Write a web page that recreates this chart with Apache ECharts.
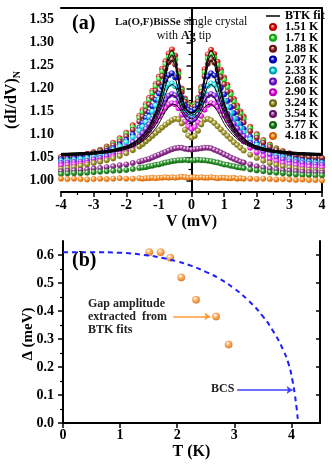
<!DOCTYPE html>
<html>
<head>
<meta charset="utf-8">
<script src="https://cdn.jsdelivr.net/npm/echarts@6/dist/echarts.min.js"></script>
<style>
html, body { margin: 0; padding: 0; background: #fff; }
#main { width: 332px; height: 468px; }
</style>
</head>
<body>
<div id="main"></div>
<script>
var chartDom = document.getElementById('main');
var myChart = echarts.init(chartDom, null, { renderer: 'canvas' });

// ---- panel (a): bias (mV) and normalised conductance per temperature
var biasV = [-4.0, -3.8, -3.6, -3.4, -3.2, -3.0, -2.8, -2.6, -2.4, -2.2, -2.0, -1.8, -1.6,
  -1.5, -1.4, -1.3, -1.2, -1.1, -1.0, -0.9, -0.8, -0.7, -0.6, -0.5, -0.4, -0.3, -0.2, -0.1, 0.0,
  0.1, 0.2, 0.3, 0.4, 0.5, 0.6, 0.7, 0.8, 0.9, 1.0, 1.1, 1.2, 1.3, 1.4, 1.5,
  1.6, 1.8, 2.0, 2.2, 2.4, 2.6, 2.8, 3.0, 3.2, 3.4, 3.6, 3.8, 4.0];
var temps = ['1.51 K', '1.71 K', '1.88 K', '2.07 K', '2.33 K', '2.68 K', '2.90 K', '3.24 K', '3.54 K', '3.77 K', '4.18 K'];

var g151 = [1.050, 1.051, 1.053, 1.055, 1.058, 1.062, 1.067, 1.074, 1.082, 1.092, 1.104, 1.120, 1.141,
  1.153, 1.166, 1.180, 1.195, 1.210, 1.226, 1.243, 1.259, 1.276, 1.285, 1.272, 1.238, 1.200, 1.178, 1.166, 1.162,
  1.167, 1.180, 1.203, 1.242, 1.274, 1.284, 1.275, 1.258, 1.241, 1.224, 1.208, 1.192, 1.177, 1.163, 1.150,
  1.139, 1.117, 1.101, 1.088, 1.078, 1.070, 1.064, 1.059, 1.056, 1.053, 1.051, 1.049, 1.048];
var g171 = [1.048, 1.049, 1.051, 1.053, 1.056, 1.060, 1.065, 1.071, 1.079, 1.089, 1.101, 1.116, 1.136,
  1.148, 1.161, 1.175, 1.190, 1.205, 1.221, 1.237, 1.253, 1.268, 1.275, 1.263, 1.232, 1.197, 1.175, 1.164, 1.160,
  1.165, 1.177, 1.199, 1.235, 1.265, 1.274, 1.267, 1.251, 1.235, 1.219, 1.203, 1.187, 1.172, 1.158, 1.145,
  1.134, 1.113, 1.098, 1.086, 1.076, 1.068, 1.062, 1.057, 1.054, 1.051, 1.049, 1.048, 1.047];
var g188 = [1.051, 1.052, 1.053, 1.055, 1.057, 1.060, 1.064, 1.069, 1.076, 1.085, 1.096, 1.110, 1.128,
  1.139, 1.151, 1.165, 1.180, 1.195, 1.211, 1.227, 1.243, 1.257, 1.263, 1.252, 1.224, 1.192, 1.171, 1.160, 1.156,
  1.161, 1.172, 1.193, 1.226, 1.254, 1.263, 1.256, 1.241, 1.225, 1.209, 1.193, 1.177, 1.162, 1.149, 1.137,
  1.126, 1.107, 1.093, 1.082, 1.073, 1.066, 1.061, 1.057, 1.054, 1.052, 1.051, 1.050, 1.049];
var g207 = [1.046, 1.047, 1.048, 1.050, 1.052, 1.055, 1.059, 1.064, 1.070, 1.078, 1.088, 1.100, 1.115,
  1.125, 1.136, 1.148, 1.161, 1.175, 1.189, 1.203, 1.217, 1.229, 1.233, 1.224, 1.203, 1.180, 1.163, 1.153, 1.150,
  1.154, 1.164, 1.182, 1.206, 1.226, 1.233, 1.228, 1.215, 1.201, 1.187, 1.173, 1.159, 1.146, 1.133, 1.122,
  1.112, 1.095, 1.082, 1.072, 1.064, 1.058, 1.053, 1.049, 1.046, 1.044, 1.042, 1.041, 1.040];
var g233 = [1.042, 1.043, 1.044, 1.046, 1.048, 1.051, 1.055, 1.060, 1.066, 1.074, 1.083, 1.094, 1.108,
  1.117, 1.127, 1.138, 1.150, 1.163, 1.176, 1.189, 1.201, 1.209, 1.211, 1.205, 1.188, 1.167, 1.152, 1.143, 1.140,
  1.144, 1.153, 1.169, 1.190, 1.206, 1.211, 1.208, 1.198, 1.186, 1.173, 1.160, 1.147, 1.135, 1.124, 1.114,
  1.105, 1.089, 1.077, 1.068, 1.061, 1.055, 1.050, 1.046, 1.043, 1.041, 1.039, 1.038, 1.037];
var g268 = [1.038, 1.039, 1.040, 1.041, 1.043, 1.046, 1.049, 1.053, 1.058, 1.065, 1.073, 1.083, 1.095,
  1.103, 1.112, 1.122, 1.133, 1.144, 1.155, 1.166, 1.176, 1.184, 1.188, 1.185, 1.173, 1.157, 1.143, 1.134, 1.131,
  1.134, 1.143, 1.158, 1.174, 1.185, 1.188, 1.185, 1.177, 1.167, 1.156, 1.145, 1.134, 1.123, 1.113, 1.104,
  1.096, 1.082, 1.071, 1.063, 1.056, 1.050, 1.046, 1.042, 1.040, 1.038, 1.036, 1.035, 1.034];
var g290 = [1.033, 1.034, 1.035, 1.036, 1.038, 1.040, 1.043, 1.047, 1.052, 1.058, 1.065, 1.074, 1.085,
  1.092, 1.100, 1.109, 1.119, 1.129, 1.139, 1.149, 1.158, 1.165, 1.168, 1.166, 1.157, 1.143, 1.128, 1.117, 1.112,
  1.116, 1.126, 1.140, 1.154, 1.164, 1.168, 1.166, 1.160, 1.151, 1.141, 1.131, 1.121, 1.111, 1.101, 1.093,
  1.085, 1.071, 1.061, 1.053, 1.047, 1.042, 1.038, 1.035, 1.033, 1.031, 1.030, 1.029, 1.028];
var g324 = [1.025, 1.027, 1.029, 1.032, 1.035, 1.038, 1.041, 1.044, 1.048, 1.053, 1.059, 1.066, 1.074,
  1.079, 1.085, 1.091, 1.097, 1.103, 1.109, 1.115, 1.121, 1.126, 1.131, 1.134, 1.133, 1.124, 1.110, 1.098, 1.093,
  1.097, 1.108, 1.122, 1.132, 1.134, 1.131, 1.125, 1.118, 1.111, 1.104, 1.097, 1.090, 1.083, 1.077, 1.071,
  1.065, 1.056, 1.049, 1.043, 1.038, 1.034, 1.031, 1.028, 1.026, 1.024, 1.023, 1.022, 1.021];
var g354 = [1.020, 1.021, 1.022, 1.023, 1.024, 1.026, 1.027, 1.029, 1.031, 1.033, 1.035, 1.038, 1.041,
  1.043, 1.045, 1.047, 1.050, 1.053, 1.056, 1.059, 1.062, 1.065, 1.068, 1.070, 1.071, 1.071, 1.069, 1.068, 1.067,
  1.068, 1.069, 1.070, 1.071, 1.071, 1.070, 1.067, 1.064, 1.061, 1.057, 1.054, 1.050, 1.047, 1.044, 1.041,
  1.039, 1.035, 1.031, 1.028, 1.026, 1.024, 1.022, 1.021, 1.020, 1.019, 1.018, 1.018, 1.017];
var g377 = [1.014, 1.015, 1.016, 1.016, 1.017, 1.018, 1.019, 1.020, 1.021, 1.022, 1.023, 1.025, 1.027,
  1.028, 1.029, 1.031, 1.032, 1.034, 1.035, 1.037, 1.039, 1.040, 1.042, 1.043, 1.044, 1.044, 1.045, 1.044, 1.044,
  1.044, 1.045, 1.044, 1.044, 1.043, 1.042, 1.040, 1.039, 1.037, 1.035, 1.034, 1.032, 1.031, 1.029, 1.028,
  1.027, 1.024, 1.022, 1.020, 1.018, 1.017, 1.016, 1.014, 1.013, 1.012, 1.012, 1.011, 1.011];
var g418 = [1.004, 1.003, 1.004, 1.003, 1.002, 1.003, 1.004, 1.003, 1.004, 1.005, 1.004, 1.004, 1.005,
  1.004, 1.005, 1.005, 1.006, 1.005, 1.006, 1.006, 1.007, 1.006, 1.007, 1.006, 1.007, 1.008, 1.007, 1.006, 1.007,
  1.007, 1.006, 1.007, 1.006, 1.006, 1.007, 1.006, 1.005, 1.006, 1.006, 1.005, 1.005, 1.006, 1.004, 1.005,
  1.004, 1.004, 1.003, 1.004, 1.003, 1.002, 1.003, 1.002, 1.001, 1.002, 1.001, 1.001, 1.000];
var curves = [g151, g171, g188, g207, g233, g268, g290, g324, g354, g377, g418];

// BTK fits (first seven temperatures)
var fitV = [-4, -3.5, -3, -2.5, -2, -1.75, -1.5, -1.3, -1.1, -1.0, -0.9, -0.8, -0.7, -0.6, -0.5, -0.4, -0.3, -0.2, -0.1, 0,
  0.1, 0.2, 0.3, 0.4, 0.5, 0.6, 0.7, 0.8, 0.9, 1.0, 1.1, 1.3, 1.5, 1.75, 2, 2.5, 3, 3.5, 4];
var fit151 = [1.058, 1.060, 1.062, 1.066, 1.075, 1.084, 1.099, 1.118, 1.150, 1.172, 1.203, 1.240, 1.272, 1.283, 1.268, 1.228, 1.186, 1.162, 1.151, 1.148,
  1.151, 1.162, 1.186, 1.228, 1.268, 1.283, 1.272, 1.240, 1.203, 1.172, 1.150, 1.118, 1.099, 1.084, 1.075, 1.066, 1.062, 1.060, 1.058];
var fit171 = [1.058, 1.059, 1.061, 1.065, 1.074, 1.083, 1.097, 1.115, 1.146, 1.167, 1.197, 1.233, 1.263, 1.273, 1.259, 1.222, 1.183, 1.160, 1.150, 1.147,
  1.150, 1.160, 1.183, 1.222, 1.259, 1.273, 1.263, 1.233, 1.197, 1.167, 1.146, 1.115, 1.097, 1.083, 1.074, 1.065, 1.061, 1.059, 1.058];
var fit188 = [1.059, 1.060, 1.062, 1.066, 1.074, 1.082, 1.096, 1.113, 1.142, 1.162, 1.190, 1.224, 1.252, 1.261, 1.249, 1.215, 1.180, 1.159, 1.149, 1.146,
  1.149, 1.159, 1.180, 1.215, 1.249, 1.261, 1.252, 1.224, 1.190, 1.162, 1.142, 1.113, 1.096, 1.082, 1.074, 1.066, 1.062, 1.060, 1.059];
var fit207 = [1.057, 1.058, 1.060, 1.064, 1.072, 1.080, 1.093, 1.109, 1.135, 1.153, 1.177, 1.205, 1.225, 1.231, 1.222, 1.197, 1.170, 1.155, 1.148, 1.146,
  1.148, 1.155, 1.170, 1.197, 1.222, 1.231, 1.225, 1.205, 1.177, 1.153, 1.135, 1.109, 1.093, 1.080, 1.072, 1.064, 1.060, 1.058, 1.057];
var fit233 = [1.056, 1.057, 1.059, 1.063, 1.071, 1.079, 1.091, 1.106, 1.129, 1.145, 1.165, 1.187, 1.203, 1.209, 1.204, 1.186, 1.164, 1.151, 1.144, 1.142,
  1.144, 1.151, 1.164, 1.186, 1.204, 1.209, 1.203, 1.187, 1.165, 1.145, 1.129, 1.106, 1.091, 1.079, 1.071, 1.063, 1.059, 1.057, 1.056];
var fit268 = [1.055, 1.056, 1.058, 1.062, 1.069, 1.077, 1.088, 1.102, 1.121, 1.134, 1.150, 1.167, 1.180, 1.186, 1.183, 1.172, 1.156, 1.144, 1.137, 1.134,
  1.137, 1.144, 1.156, 1.172, 1.183, 1.186, 1.180, 1.167, 1.150, 1.134, 1.121, 1.102, 1.088, 1.077, 1.069, 1.062, 1.058, 1.056, 1.055];
var fit290 = [1.054, 1.055, 1.057, 1.061, 1.068, 1.075, 1.085, 1.097, 1.113, 1.124, 1.137, 1.150, 1.160, 1.166, 1.165, 1.159, 1.148, 1.137, 1.129, 1.126,
  1.129, 1.137, 1.148, 1.159, 1.165, 1.166, 1.160, 1.150, 1.137, 1.124, 1.113, 1.097, 1.085, 1.075, 1.068, 1.061, 1.057, 1.055, 1.054];
var fits = [fit151, fit171, fit188, fit207, fit233, fit268, fit290];

// ---- panel (b): gap vs temperature
var gapT = [1.51, 1.71, 1.88, 2.07, 2.33, 2.68, 2.90];
var gapVal = [0.61, 0.61, 0.59, 0.52, 0.44, 0.38, 0.28];
var bcsT = [0, 0.5, 1.0, 1.5, 1.75, 2.0, 2.25, 2.5, 2.75, 3.0, 3.25, 3.5, 3.7, 3.85, 3.95, 4.02, 4.06, 4.09, 4.11];
var bcsGap = [0.610, 0.610, 0.608, 0.598, 0.589, 0.577, 0.561, 0.540, 0.514, 0.480, 0.437, 0.381, 0.321, 0.263, 0.211, 0.150, 0.100, 0.055, 0.015];

// tick labels
var xTicksA = [-4, -3, -2, -1, 0, 1, 2, 3, 4];
var yTicksA = [1.00, 1.05, 1.10, 1.15, 1.20, 1.25, 1.30, 1.35];
var yMinorA = [1.025, 1.075, 1.125, 1.175, 1.225, 1.275, 1.325];
var xTicksB = [0, 1, 2, 3, 4];
var yTicksB = [0.0, 0.1, 0.2, 0.3, 0.4, 0.5, 0.6];
var yMinorB = [0.05, 0.15, 0.25, 0.35, 0.45, 0.55];

var serif = "'Liberation Serif', 'Times New Roman', serif";
var colors = ['#ff2a2a', '#44ee44', '#a83a3a', '#2222ff', '#30f0f0', '#9a3cff', '#ff3cff', '#a8a030', '#a03ca0', '#2e9a2e', '#ff9a33'];
var edges = ['#b00000', '#10a010', '#6a1010', '#0000a0', '#00a0b0', '#5a10b0', '#b000b0', '#6a6410', '#601060', '#0f600f', '#d06000'];

function ball(c, e) {
  return {
    type: 'radial', x: 0.38, y: 0.32, r: 0.7,
    colorStops: [{ offset: 0, color: '#ffffff' }, { offset: 0.45, color: c }, { offset: 1, color: e }]
  };
}

var lineSt = { show: true, lineStyle: { color: '#000', width: 2 } };
var labelSt = { color: '#000', fontFamily: serif, fontWeight: 'bold', fontSize: 14 };
var nameSt = { color: '#000', fontFamily: serif, fontWeight: 'bold', fontSize: 16 };

var series = [];
curves.forEach(function (g, i) {
  series.push({
    type: 'scatter',
    name: temps[i],
    xAxisIndex: 0,
    yAxisIndex: 0,
    symbolSize: 5.5,
    itemStyle: { color: ball(colors[i], edges[i]), borderColor: edges[i], borderWidth: 0.3, opacity: 1 },
    data: biasV.map(function (v, j) { return [v, g[j]]; }),
    z: 2
  });
});
fits.forEach(function (f) {
  series.push({
    type: 'line',
    name: 'BTK fit',
    xAxisIndex: 0,
    yAxisIndex: 0,
    smooth: 0.25,
    symbol: 'none',
    lineStyle: { color: '#000', width: 1 },
    itemStyle: { color: '#000' },
    data: fitV.map(function (v, j) { return [v, f[j]]; }),
    z: 5
  });
});
series.push({
  type: 'line',
  name: 'BCS',
  xAxisIndex: 2,
  yAxisIndex: 3,
  smooth: true,
  symbol: 'none',
  lineStyle: { color: '#1f1fff', width: 2, type: [5, 4] },
  data: bcsT.map(function (t, j) { return [t, bcsGap[j]]; }),
  markLine: {
    silent: true, animation: false, symbol: ['none', 'arrow'], symbolSize: 6,
    label: { show: false },
    lineStyle: { color: '#3d3dff', width: 1.5, type: 'solid' },
    data: [[{ coord: [3.05, 0.118] }, { coord: [4.02, 0.118] }]]
  }
});
series.push({
  type: 'scatter',
  name: 'gap',
  xAxisIndex: 2,
  yAxisIndex: 3,
  symbolSize: 7.5,
  itemStyle: { color: ball('#ff9a33', '#d06000'), borderColor: '#d06000', borderWidth: 0.3 },
  data: gapT.map(function (t, j) { return [t, gapVal[j]]; }),
  markLine: {
    silent: true, animation: false, symbol: ['none', 'arrow'], symbolSize: 6,
    label: { show: false },
    lineStyle: { color: '#ff9a33', width: 1.5, type: 'solid' },
    data: [[{ coord: [1.93, 0.38] }, { coord: [2.58, 0.38] }]]
  }
});

var legendData = [{ name: 'BTK fit', icon: 'path://M0,0L14,0L14,1.5L0,1.5Z' }].concat(temps.map(function (t) {
  return { name: t, icon: 'circle' };
}));

option = {
  animation: false,
  backgroundColor: '#fff',
  grid: [
    { left: 61, top: 8, width: 261, height: 184, outerBoundsMode: 'none' },
    { left: 63, top: 241, width: 257, height: 182, outerBoundsMode: 'none' }
  ],
  legend: {
    data: legendData,
    orient: 'vertical',
    left: 266,
    top: 10,
    padding: 0,
    itemGap: -1.1,
    itemWidth: 14,
    itemHeight: 6,
    selectedMode: false,
    textStyle: { color: '#000', fontFamily: serif, fontWeight: 'bold', fontSize: 12 }
  },
  xAxis: [
    {
      type: 'value', gridIndex: 0, min: -4, max: 4, interval: 1, position: 'bottom',
      axisLine: lineSt,
      axisTick: { show: true, length: 5, lineStyle: { width: 1.5, color: '#000' } },
      minorTick: { show: true, splitNumber: 2, length: 3, lineStyle: { width: 1.2, color: '#000' } },
      splitLine: { show: false },
      axisLabel: Object.assign({ margin: 6, customValues: xTicksA, formatter: function (v) { return String(v); } }, labelSt),
      name: 'V (mV)', nameLocation: 'middle', nameGap: 22, nameTextStyle: nameSt
    },
    {
      type: 'value', gridIndex: 0, min: -4, max: 4, position: 'top',
      axisLine: lineSt, axisTick: { show: false }, axisLabel: { show: false }, splitLine: { show: false }
    },
    {
      type: 'value', gridIndex: 1, min: 0, max: 4.5, position: 'bottom',
      axisLine: lineSt,
      axisTick: { show: true, length: 5, customValues: xTicksB, lineStyle: { width: 1.5, color: '#000' } },
      splitLine: { show: false },
      axisLabel: Object.assign({ margin: 5, customValues: xTicksB, formatter: function (v) { return String(v); } }, labelSt),
      name: 'T (K)', nameLocation: 'middle', nameGap: 21, nameTextStyle: nameSt
    },
    {
      type: 'value', gridIndex: 1, min: 0, max: 4.5, position: 'top',
      axisLine: lineSt,
      axisTick: { show: true, inside: true, length: 4, customValues: [1, 2, 3, 4], lineStyle: { width: 1.5, color: '#000' } },
      axisLabel: { show: false }, splitLine: { show: false }
    }
  ],
  yAxis: [
    {
      type: 'value', gridIndex: 0, min: 0.975, max: 1.375, position: 'left',
      axisLine: lineSt,
      axisTick: { show: true, length: 5, customValues: yTicksA, lineStyle: { width: 1.5, color: '#000' } },
      splitLine: { show: false },
      axisLabel: Object.assign({ margin: 7, customValues: yTicksA, formatter: function (v) { return v.toFixed(2); } }, labelSt)
    },
    {
      type: 'value', gridIndex: 0, min: 0.975, max: 1.375, position: 'left',
      axisLine: { show: false },
      axisTick: { show: true, length: 3, customValues: yMinorA, lineStyle: { width: 1.2, color: '#000' } },
      axisLabel: { show: false }, splitLine: { show: false }
    },
    {
      type: 'value', gridIndex: 0, min: 0.975, max: 1.375, position: 'right',
      axisLine: lineSt, axisTick: { show: false }, axisLabel: { show: false }, splitLine: { show: false }
    },
    {
      type: 'value', gridIndex: 1, min: 0, max: 0.65, position: 'left',
      axisLine: lineSt,
      axisTick: { show: true, length: 5, customValues: yTicksB, lineStyle: { width: 1.5, color: '#000' } },
      splitLine: { show: false },
      axisLabel: Object.assign({ margin: 9, customValues: yTicksB, formatter: function (v) { return v.toFixed(1); } }, labelSt)
    },
    {
      type: 'value', gridIndex: 1, min: 0, max: 0.65, position: 'left',
      axisLine: { show: false },
      axisTick: { show: true, length: 3, customValues: yMinorB, lineStyle: { width: 1.2, color: '#000' } },
      axisLabel: { show: false }, splitLine: { show: false }
    },
    {
      type: 'value', gridIndex: 1, min: 0, max: 0.65, position: 'right',
      axisLine: lineSt,
      axisTick: { show: true, inside: true, length: 4, customValues: [0.1, 0.2, 0.3, 0.4, 0.5, 0.6], lineStyle: { width: 1.5, color: '#000' } },
      axisLabel: { show: false }, splitLine: { show: false }
    }
  ],
  graphic: [
    { type: 'text', left: 72, top: 14, style: { text: '(a)', fill: '#000', font: 'bold 20px ' + serif } },
    {
      type: 'text', x: 115, y: 22,
      style: {
        text: '{b|La(O,F)BiSSe} single crystal', fill: '#111', align: 'left', verticalAlign: 'middle',
        fontFamily: serif, fontSize: 12,
        rich: { b: { fontFamily: serif, fontSize: 11, fontWeight: 'bold', fill: '#111' } }
      }
    },
    {
      type: 'text', x: 184, y: 36,
      style: {
        text: 'with {b|Ag} tip', fill: '#111', align: 'center', verticalAlign: 'middle',
        fontFamily: serif, fontSize: 12,
        rich: { b: { fontFamily: serif, fontSize: 12, fontWeight: 'bold', fill: '#111' } }
      }
    },
    {
      type: 'text', x: 12, y: 100, rotation: Math.PI / 2,
      style: {
        text: '{m|(dI/dV)}{s|N}', align: 'center', verticalAlign: 'middle',
        rich: {
          m: { fontFamily: serif, fontSize: 16, fontWeight: 'bold', fill: '#000', lineHeight: 20, verticalAlign: 'middle' },
          s: { fontFamily: serif, fontSize: 10, fontWeight: 'bold', fill: '#000', lineHeight: 20, verticalAlign: 'bottom' }
        }
      }
    },
    { type: 'text', left: 72, top: 251, style: { text: '(b)', fill: '#000', font: 'bold 20px ' + serif } },
    {
      type: 'text', x: 28, y: 334, rotation: Math.PI / 2,
      style: { text: 'Δ (meV)', fill: '#000', align: 'center', verticalAlign: 'middle', font: 'bold 15px ' + serif }
    },
    {
      type: 'text', left: 88, top: 297,
      style: { text: 'Gap amplitude\nextracted  from\nBTK fits', fill: '#222', font: 'bold 12px ' + serif, lineHeight: 13 }
    },
    { type: 'text', left: 211, top: 383, style: { text: 'BCS', fill: '#222', font: 'bold 12px ' + serif } }
  ],
  series: series
};

myChart.setOption(option);
</script>
</body>
</html>
